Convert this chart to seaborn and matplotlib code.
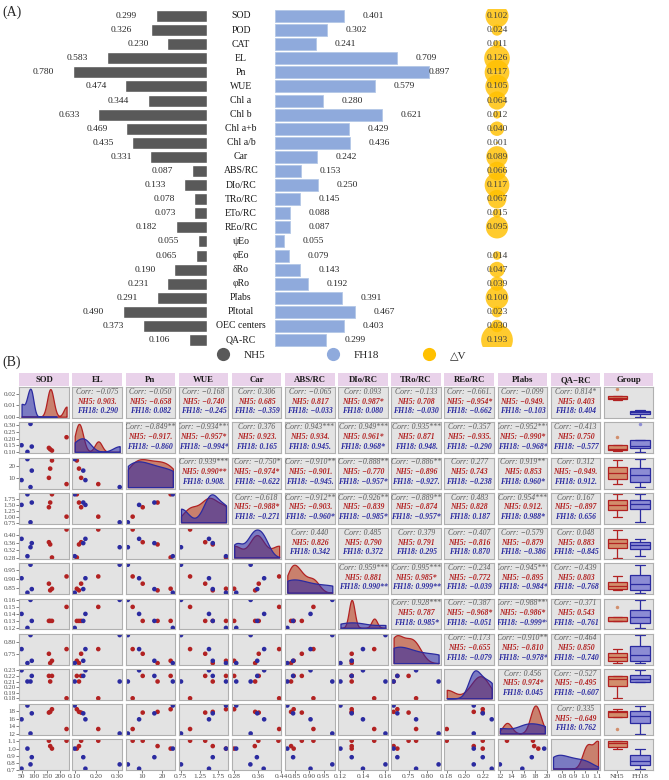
import numpy as np
import pandas as pd
import matplotlib
matplotlib.use("Agg")
import matplotlib.pyplot as plt
import seaborn as sns
from matplotlib.lines import Line2D

sns.set_theme(style="white")
plt.rcParams['font.family'] = ['Liberation Serif', 'DejaVu Sans']

# ---------------- (A) data ----------------
traits = ["SOD", "POD", "CAT", "EL", "Pn", "WUE", "Chl a", "Chl b", "Chl a+b", "Chl a/b",
          "Car", "ABS/RC", "DIo/RC", "TRo/RC", "ETo/RC", "REo/RC", "ψEo", "φEo", "δRo",
          "φRo", "PIabs", "PItotal", "OEC centers", "QA-RC"]
nh5_a = [0.299, 0.326, 0.230, 0.583, 0.780, 0.474, 0.344, 0.633, 0.469, 0.435, 0.331, 0.087,
         0.133, 0.078, 0.073, 0.182, 0.055, 0.065, 0.190, 0.231, 0.291, 0.490, 0.373, 0.106]
fh18_a = [0.401, 0.302, 0.241, 0.709, 0.897, 0.579, 0.280, 0.621, 0.429, 0.436, 0.242, 0.153,
          0.250, 0.145, 0.088, 0.087, 0.055, 0.079, 0.143, 0.192, 0.391, 0.467, 0.403, 0.299]
delta_v = [0.102, 0.024, 0.011, 0.126, 0.117, 0.105, 0.064, 0.012, 0.040, 0.001, 0.089, 0.066,
           0.117, 0.067, 0.015, 0.095, 0.000, 0.014, 0.047, 0.039, 0.100, 0.023, 0.030, 0.193]

# ---------------- (B) data: 4 plants per group ----------------
vars_b = ["SOD", "EL", "Pn", "WUE", "Car", "ABS/RC", "DIo/RC", "TRo/RC", "REo/RC", "PIabs", "QA-RC"]
strip_b = ["SOD", "EL", "Pn", "WUE", "Car", "ABS/RC", "DIo/RC", "TRo/RC", "REo/RC", "PIabs", "QA−RC"]
group_b = ["NH5"] * 4 + ["FH18"] * 4
sod_b = [157, 162, 169, 226, 50, 73, 85, 90]
el_b = [0.13, 0.12, 0.11, 0.21, 0.15, 0.10, 0.31, 0.14]
pn_b = [10.4, 17.8, 24.3, 5.4, 8.6, 25.4, 3.0, 16.2]
wue_b = [1.40, 1.60, 1.95, 1.00, 1.50, 1.95, 0.76, 1.60]
car_b = [0.362, 0.350, 0.280, 0.430, 0.380, 0.287, 0.335, 0.357]
abs_b = [0.875, 0.838, 0.847, 0.915, 0.905, 0.825, 0.980, 0.845]
dio_b = [0.13, 0.13, 0.13, 0.15, 0.14, 0.12, 0.16, 0.13]
tro_b = [0.75, 0.71, 0.72, 0.77, 0.77, 0.71, 0.83, 0.72]
reo_b = [0.22, 0.21, 0.22, 0.18, 0.23, 0.21, 0.21, 0.22]
piabs_b = [17.6, 17.8, 18.5, 13.2, 15.8, 19.5, 12.0, 17.4]
qa_b = [1.11, 1.035, 1.00, 1.11, 0.72, 1.00, 0.78, 0.88]

# tick labels
ticks_b = {
    "SOD": ["50", "100", "150", "200"], "EL": ["0.10", "0.20", "0.30"], "Pn": ["10", "20"],
    "WUE": ["0.75", "1.25", "1.75"], "Car": ["0.28", "0.36", "0.44"],
    "ABS/RC": ["0.85", "0.90", "0.95"], "DIo/RC": ["0.12", "0.14", "0.16"],
    "TRo/RC": ["0.75", "0.80"], "REo/RC": ["0.18", "0.20", "0.22"],
    "PIabs": ["12", "14", "16", "18", "20"], "QA-RC": ["0.8", "0.9", "1.0", "1.1"]}
yticks_b = {
    "EL": ["0.10", "0.15", "0.20", "0.25", "0.30"], "Pn": ["10", "20"],
    "WUE": ["0.75", "1.00", "1.25", "1.50", "1.75"], "Car": ["0.28", "0.32", "0.36", "0.40"],
    "ABS/RC": ["0.85", "0.90", "0.95"], "DIo/RC": ["0.12", "0.13", "0.14", "0.15", "0.16"],
    "TRo/RC": ["0.75", "0.80"], "REo/RC": ["0.18", "0.19", "0.20", "0.21", "0.22", "0.23"],
    "PIabs": ["12", "14", "16", "18"], "QA-RC": ["0.7", "0.8", "0.9", "1.0", "1.1"]}
sod_density_ticks = ["0.00", "0.01", "0.02"]

# upper triangle text, row by row
corr_all = [
    ["−0.075", "−0.050", "−0.168", "0.306", "−0.065", "0.093", "−0.133", "−0.661.", "−0.099", "0.814*"],
    ["−0.849**", "−0.934***", "0.376", "0.943***", "0.949***", "0.935***", "−0.357", "−0.952***", "−0.413"],
    ["0.939***", "−0.750*", "−0.910**", "−0.888**", "−0.886**", "0.277", "0.919**", "0.312"],
    ["−0.618", "−0.912**", "−0.926**", "−0.889**", "0.483", "0.954***", "0.167"],
    ["0.440", "0.485", "0.379", "−0.407", "−0.579", "0.048"],
    ["0.959***", "0.995***", "−0.234", "−0.945***", "−0.439"],
    ["0.928***", "−0.387", "−0.988***", "−0.371"],
    ["−0.173", "−0.910**", "−0.464"],
    ["0.456", "−0.527"],
    ["0.335"]]
corr_nh5 = [
    ["0.903.", "−0.658", "−0.740", "0.685", "0.817", "0.987*", "0.708", "−0.954*", "−0.949.", "0.403"],
    ["−0.917.", "−0.957*", "0.923.", "0.934.", "0.961*", "0.871", "−0.935.", "−0.990*", "0.750"],
    ["0.990**", "−0.974*", "−0.901.", "−0.770", "−0.896", "0.743", "0.853", "−0.949."],
    ["−0.988*", "−0.903.", "−0.839", "−0.874", "0.828", "0.912.", "−0.897"],
    ["0.826", "0.790", "0.791", "−0.816", "−0.879", "0.883"],
    ["0.881", "0.985*", "−0.772", "−0.895", "0.803"],
    ["0.787", "−0.968*", "−0.986*", "0.543"],
    ["−0.655", "−0.810", "0.850"],
    ["0.974*", "−0.495"],
    ["−0.649"]]
corr_fh18 = [
    ["0.290", "0.082", "−0.245", "−0.359", "−0.033", "0.080", "−0.030", "−0.662", "−0.103", "0.404"],
    ["−0.860", "−0.994*", "0.165", "0.945.", "0.968*", "0.948.", "−0.290", "−0.968*", "−0.577"],
    ["0.908.", "−0.622", "−0.945.", "−0.957*", "−0.927.", "−0.238", "0.960*", "0.912."],
    ["−0.271", "−0.960*", "−0.985*", "−0.957*", "0.187", "0.988*", "0.656"],
    ["0.342", "0.372", "0.295", "0.870", "−0.386", "−0.845"],
    ["0.990**", "0.999**", "−0.039", "−0.984*", "−0.768"],
    ["0.985*", "−0.051", "−0.999**", "−0.761"],
    ["−0.079", "−0.978*", "−0.740"],
    ["0.045", "−0.607"],
    ["0.762"]]

df_a = pd.DataFrame({"trait": traits, "NH5": nh5_a, "FH18": fh18_a, "dV": delta_v})
df_b = pd.DataFrame({"Group": group_b, "SOD": sod_b, "EL": el_b, "Pn": pn_b, "WUE": wue_b,
                     "Car": car_b, "ABS/RC": abs_b, "DIo/RC": dio_b, "TRo/RC": tro_b,
                     "REo/RC": reo_b, "PIabs": piabs_b, "QA-RC": qa_b})

W, H = 669, 780
fig = plt.figure(figsize=(W / 100, H / 100), dpi=100)


def px_axes(x0, y0, w, h):
    return fig.add_axes([x0 / W, 1 - (y0 + h) / H, w / W, h / H])


# ================= panel A =================
PX_UNIT = 172.0
row_px = 14.09
top_px = 16 - 0.5 * row_px
height_px = 24 * row_px
axL = px_axes(0, top_px, 207, height_px)
axR = px_axes(275, top_px, W - 275, height_px)

sns.barplot(data=df_a, x="NH5", y="trait", orient="h", ax=axL, color="#595959",
            saturation=1, width=0.85, errorbar=None)
sns.barplot(data=df_a, x="FH18", y="trait", orient="h", ax=axR, color="#8FAADC",
            saturation=1, width=0.85, errorbar=None, edgecolor="#B4C7E7", linewidth=0.6)
axL.set_xlim(207 / PX_UNIT, 0)
axR.set_xlim(0, (W - 275) / PX_UNIT)
for ax in (axL, axR):
    ax.set_ylim(23.5, -0.5)
    ax.axis("off")

dv_x = (497 - 275) / PX_UNIT
axR.scatter(np.full(len(delta_v), dv_x), np.arange(len(delta_v)),
            s=[2700 * d for d in delta_v], color="#FFC000", alpha=0.82,
            edgecolors="none", zorder=3)

for i, row in df_a.iterrows():
    axL.text(row["NH5"] + 0.17, i, f"{row['NH5']:.3f}", ha="center", va="center",
             fontsize=6.8, color="#262626")
    axR.text(min(row["FH18"] + 0.17, 0.955), i, f"{row['FH18']:.3f}", ha="center",
             va="center", fontsize=6.8, color="#262626")
    axL.text(-34 / PX_UNIT, i, row["trait"], ha="center", va="center", fontsize=7,
             color="#1A1A1A", clip_on=False)
    if row["dV"] > 0:
        axR.text(dv_x, i, f"{row['dV']:.3f}", ha="center", va="center", fontsize=6.8,
                 color="#404040", zorder=4)

fig.text(2 / W, 1 - 12 / H, "(A)", fontsize=10, ha="left", va="center")

leg_items = [("NH5", "#595959", 223), ("FH18", "#8FAADC", 333), ("△V", "#FFC000", 429)]
for name, col, xm in leg_items:
    h = Line2D([], [], marker="o", ls="none", markersize=9.5, markerfacecolor=col,
               markeredgecolor="none")
    fig.legend(handles=[h], labels=[name], loc="center left",
               bbox_to_anchor=((xm - 5.6) / W, 1 - 355 / H), frameon=False, fontsize=8,
               handlelength=1.0, handletextpad=1.35, borderpad=0, borderaxespad=0)

# ================= panel B =================
fig.text(2 / W, 1 - 362 / H, "(B)", fontsize=10, ha="left", va="center")

c_red, c_blue = "#B22222", "#2B2BA0"
fill_red, fill_blue = "#B5300C", "#2424A8"
box_red, box_blue = "#D28E6C", "#8C8CD4"
palette_pts = {"NH5": c_red, "FH18": c_blue}
X0, DX, CW = 19.3, 53.15, 49.5
Y0, DY, CH = 387.3, 35.2, 30.8
n = len(vars_b)


def lims(v):
    lo, hi = df_b[v].min(), df_b[v].max()
    pad = 0.05 * (hi - lo)
    return lo - pad, hi + pad


def style(ax, i, j):
    ax.set_facecolor("#E3E3E3")
    for s in ax.spines.values():
        s.set_color("#B0B0B0")
        s.set_linewidth(0.8)
    ax.set_xlabel("")
    ax.set_ylabel("")
    ax.tick_params(length=2, width=0.5, colors="#4D4D4D", pad=0.5,
                   left=(j == 0), labelleft=(j == 0),
                   bottom=(i == n - 1), labelbottom=(i == n - 1))
    ax.tick_params(axis="y", labelsize=5.0)
    ax.tick_params(axis="x", labelsize=5.4)


for j in range(n + 1):
    ax = px_axes(X0 + DX * j, Y0 - 14, CW, 13)
    ax.set_facecolor("#E9D2EA")
    ax.set_xticks([])
    ax.set_yticks([])
    for s in ax.spines.values():
        s.set_visible(False)
    lab = strip_b[j] if j < n else "Group"
    ax.text(0.5, 0.45, lab, ha="center", va="center", fontsize=6.3, fontweight="bold",
            color="#1A1A1A", transform=ax.transAxes)

for i in range(n):
    ax = px_axes(X0 + DX * n + 1.5, Y0 + DY * i, 11, CH)
    ax.set_facecolor("#E9D2EA")
    ax.set_xticks([])
    ax.set_yticks([])
    for s in ax.spines.values():
        s.set_visible(False)
    ax.text(0.5, 0.5, strip_b[i], ha="center", va="center", rotation=270, fontsize=6.3,
            fontweight="bold", color="#1A1A1A", transform=ax.transAxes)

for i, vy in enumerate(vars_b):
    for j in range(n + 1):
        ax = px_axes(X0 + DX * j, Y0 + DY * i, CW, CH)
        if j == n:
            for g, fc, ec in (("NH5", box_red, c_red), ("FH18", box_blue, c_blue)):
                sub = df_b[df_b["Group"] == g]
                sns.boxplot(data=sub, x="Group", y=vy, order=["NH5", "FH18"], ax=ax,
                            color=fc, linecolor=ec, linewidth=0.9, width=0.85,
                            saturation=1, whis=1.5,
                            flierprops=dict(marker="o", markersize=2.5,
                                            markerfacecolor=fc, markeredgecolor="none"))
            ax.set_xlim(-0.6, 1.6)
            ax.set_ylim(*lims(vy))
        elif j < i:
            vx = vars_b[j]
            sns.scatterplot(data=df_b, x=vx, y=vy, hue="Group", palette=palette_pts,
                            ax=ax, s=11, edgecolor="none", legend=False)
            ax.set_xlim(*lims(vx))
            ax.set_ylim(*lims(vy))
        elif j == i:
            vmin, vmax = df_b[vy].min(), df_b[vy].max()
            top = 0
            for g, fc, ec in (("NH5", fill_red, c_red), ("FH18", fill_blue, c_blue)):
                vals = df_b.loc[df_b["Group"] == g, vy]
                sd = vals.std()
                iqr = vals.quantile(0.75) - vals.quantile(0.25)
                lo = min(sd, iqr / 1.34) if iqr > 0 else sd
                sns.kdeplot(x=vals, ax=ax, fill=True, color=fc, alpha=0.55,
                            edgecolor=ec, linewidth=0.9, bw_adjust=0.9 * lo / sd,
                            cut=10, clip=(vmin, vmax))
            for c in ax.collections:
                for p in c.get_paths():
                    top = max(top, p.vertices[:, 1].max())
            ax.set_xlim(*lims(vy))
            ax.set_ylim(-0.05 * top, 1.05 * top)
        else:
            k = j - i - 1
            ax.set_xticks([])
            ax.set_yticks([])
            ax.text(0.5, 0.85, "Corr: " + corr_all[i][k], ha="center", va="center",
                    fontsize=5.6, style="italic", color="#5A5A5A",
                    transform=ax.transAxes, clip_on=True)
            ax.text(0.5, 0.53, "NH5: " + corr_nh5[i][k], ha="center", va="center",
                    fontsize=5.6, style="italic", fontweight="bold", color=c_red,
                    transform=ax.transAxes, clip_on=True)
            ax.text(0.5, 0.22, "FH18: " + corr_fh18[i][k], ha="center", va="center",
                    fontsize=5.6, style="italic", fontweight="bold", color=c_blue,
                    transform=ax.transAxes, clip_on=True)
        style(ax, i, j)
        if j == 0 and i > 0:
            ax.set_yticks([float(t) for t in yticks_b[vy]], labels=yticks_b[vy])
        if j == 0 and i == 0:
            ax.set_yticks([float(t) for t in sod_density_ticks], labels=sod_density_ticks)
        if i == n - 1 and j < n:
            ax.set_xticks([float(t) for t in ticks_b[vars_b[j]]], labels=ticks_b[vars_b[j]])
        if i == n - 1 and j == n:
            ax.set_xticks([0, 1], labels=["NH5", "FH18"])
        ax.set_xlabel("")
        ax.set_ylabel("")

fig.savefig("out.png", dpi=100)
